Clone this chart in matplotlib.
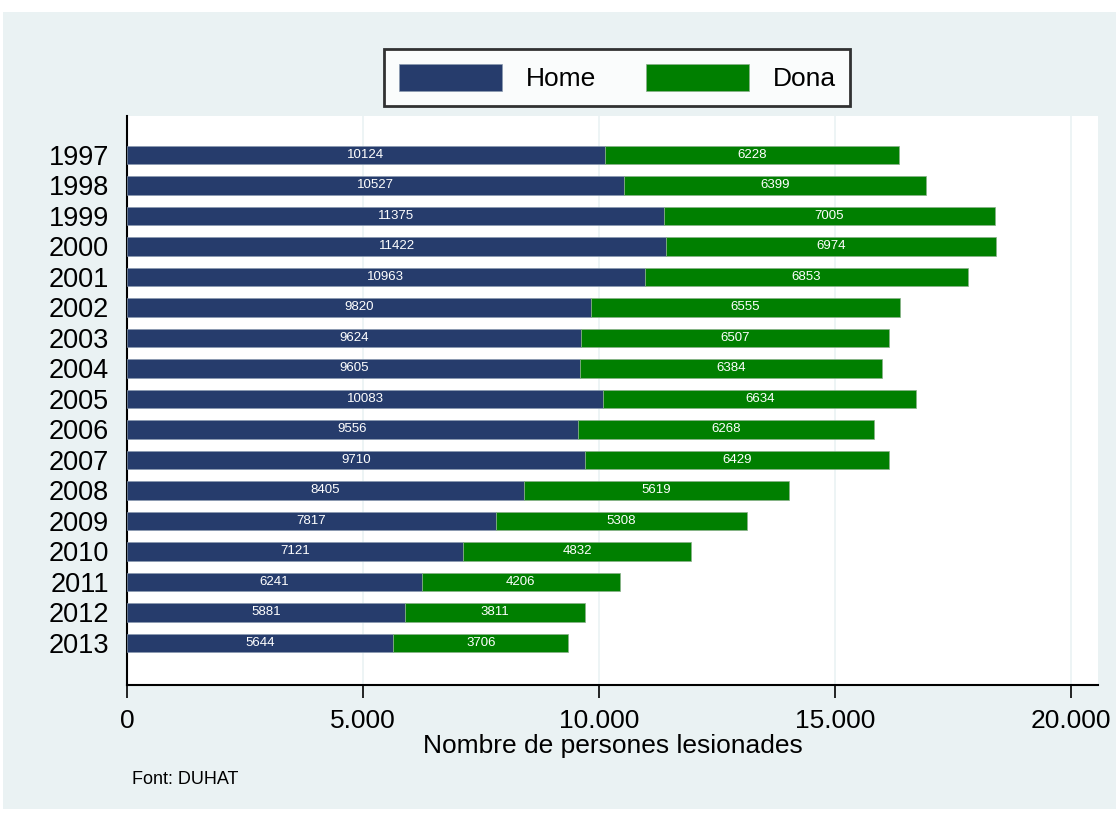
import matplotlib.pyplot as plt
import numpy as np

plt.rcParams['font.family'] = ['Liberation Sans', 'DejaVu Sans']

years = ['1997', '1998', '1999', '2000', '2001', '2002', '2003', '2004', '2005',
         '2006', '2007', '2008', '2009', '2010', '2011', '2012', '2013']
home = [10124, 10527, 11375, 11422, 10963, 9820, 9624, 9605, 10083,
        9556, 9710, 8405, 7817, 7121, 6241, 5881, 5644]
dona = [6228, 6399, 7005, 6974, 6853, 6555, 6507, 6384, 6634,
        6268, 6429, 5619, 5308, 4832, 4206, 3811, 3706]

navy = '#263c6c'
green = '#007f00'
bg = '#eaf2f3'

fig = plt.figure(figsize=(11.16, 8.19), dpi=100)
# light background panel with thin white margin
fig.patches.append(plt.Rectangle((0.003, 0.012), 0.997, 0.973, transform=fig.transFigure,
                                 facecolor=bg, edgecolor='none', zorder=-10))
ax = fig.add_axes([0.1138, 0.1636, 0.8702, 0.6948])
ax.set_facecolor('white')

y = np.arange(len(years))
ax.barh(y, home, height=0.6, color=navy, edgecolor='#8a9ab0', linewidth=0.5,
        label='Home', zorder=3)
ax.barh(y, dona, left=home, height=0.6, color=green, edgecolor='#8ab08a',
        linewidth=0.5, label='Dona', zorder=3)

for i in range(len(years)):
    ax.text(home[i] / 2, y[i], str(home[i]), color='white', fontsize=9.5,
            ha='center', va='center', zorder=4)
    ax.text(home[i] + dona[i] / 2, y[i], str(dona[i]), color='white', fontsize=9.5,
            ha='center', va='center', zorder=4)

ax.set_xlim(0, 20570)
ax.set_ylim(len(years) - 1 + 1.38, -1.28)
ax.set_yticks(y)
ax.set_yticklabels(years, fontsize=19.5)
ax.tick_params(axis='y', length=0, pad=13)
xt = [0, 5000, 10000, 15000, 20000]
ax.set_xticks(xt)
ax.set_xticklabels(['0', '5.000', '10.000', '15.000', '20.000'], fontsize=19)
ax.tick_params(axis='x', length=9, width=1.2, pad=8)
ax.grid(axis='x', color=bg, linewidth=1.2, zorder=0)

for s in ['top', 'right']:
    ax.spines[s].set_visible(False)
ax.spines['left'].set_linewidth(1.5)
ax.spines['bottom'].set_linewidth(1.5)

ax.set_xlabel('Nombre de persones lesionades', fontsize=19, labelpad=1)

leg = ax.legend(loc='lower center', bbox_to_anchor=(0.505, 1.018), ncol=2, fontsize=19,
                frameon=True, fancybox=False, edgecolor='black', handlelength=3.9,
                handleheight=1.2, columnspacing=1.9, handletextpad=0.9,
                borderpad=0.55, borderaxespad=0)
leg.get_frame().set_linewidth(2)

fig.text(0.118, 0.043, 'Font: DUHAT', fontsize=13)

fig.savefig('out.png', dpi=100)
